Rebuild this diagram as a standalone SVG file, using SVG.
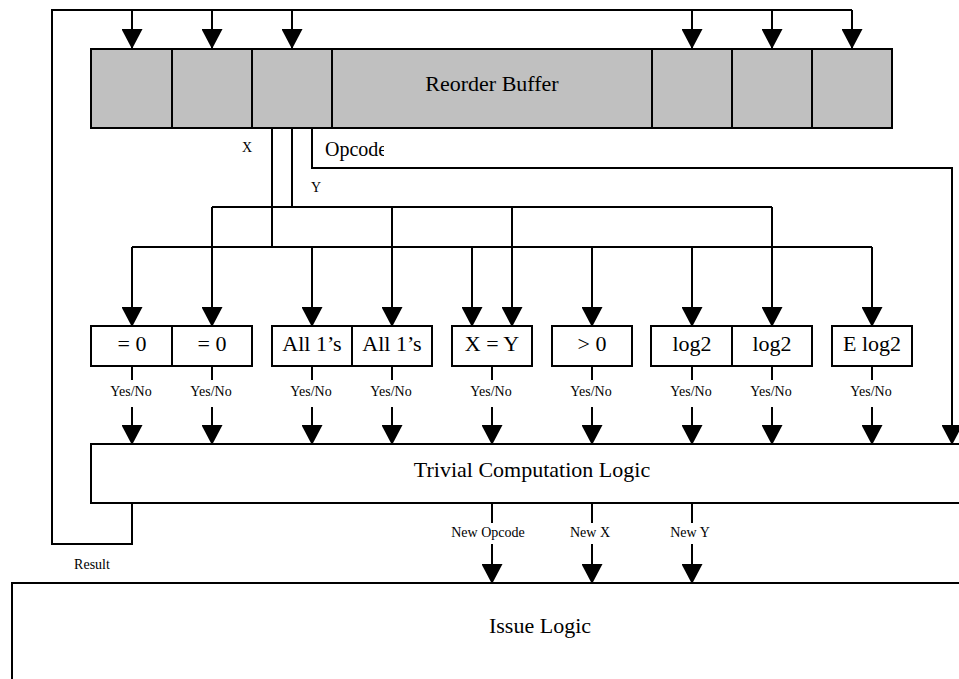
<svg xmlns="http://www.w3.org/2000/svg" width="959" height="679" viewBox="0 0 959 679">
<style>
.ln{fill:none;stroke:#000;stroke-width:2}
.ar{fill:none;stroke:#000;stroke-width:2;marker-end:url(#ah)}
.box{fill:#fff;stroke:#000;stroke-width:2}
.rob{fill:#c0c0c0;stroke:#000;stroke-width:2}
.t{font-family:"Liberation Serif","Times New Roman",serif;font-size:22px;text-anchor:middle;fill:#000}
.s{font-family:"Liberation Serif","Times New Roman",serif;font-size:14px;text-anchor:middle;fill:#000}
</style>
<defs>
<marker id="ah" viewBox="0 0 20 21" refX="19" refY="10.5" markerWidth="20" markerHeight="21" markerUnits="userSpaceOnUse" orient="auto">
<path d="M0,0 L20,10.5 L0,21 z" fill="#000"/>
</marker>
<clipPath id="opclip"><rect x="300" y="130" width="84" height="40"/></clipPath>
</defs>
<rect width="959" height="679" fill="#fff"/>

<g id="reorder-buffer">
<rect class="rob" x="91" y="49" width="801" height="79"/>
<path class="ln" d="M172,49V128M252,49V128M332,49V128M652,49V128M732,49V128M812,49V128"/>
<text class="t" x="492" y="91">Reorder Buffer</text>
</g>

<g id="check-eq0-x"><rect class="box" x="91" y="326" width="81" height="40"/><text class="t" x="132" y="351">= 0</text></g>
<g id="check-eq0-y"><rect class="box" x="172" y="326" width="80" height="40"/><text class="t" x="212" y="351">= 0</text></g>
<g id="check-all1-x"><rect class="box" x="272" y="326" width="80" height="40"/><text class="t" x="312" y="351">All 1’s</text></g>
<g id="check-all1-y"><rect class="box" x="352" y="326" width="80" height="40"/><text class="t" x="392" y="351">All 1’s</text></g>
<g id="check-xeqy"><rect class="box" x="452" y="326" width="80" height="40"/><text class="t" x="492" y="351">X = Y</text></g>
<g id="check-gt0"><rect class="box" x="552" y="326" width="80" height="40"/><text class="t" x="592" y="351">&gt; 0</text></g>
<g id="check-log2-x"><rect class="box" x="651" y="326" width="81" height="40"/><text class="t" x="692" y="351">log2</text></g>
<g id="check-log2-y"><rect class="box" x="732" y="326" width="80" height="40"/><text class="t" x="772" y="351">log2</text></g>
<g id="check-elog2"><rect class="box" x="832" y="326" width="80" height="40"/><text class="t" x="872" y="351">E log2</text></g>

<g id="trivial-computation-logic">
<rect class="box" x="91" y="444" width="880" height="59"/>
<text class="t" x="532" y="477">Trivial Computation Logic</text>
</g>

<g id="issue-logic">
<rect class="box" x="12" y="583" width="960" height="110"/>
<text class="t" x="540" y="633">Issue Logic</text>
</g>

<g id="connectors">
<path class="ln" d="M132,503V544H52V10H852"/>
<path class="ar" d="M132,10V48"/>
<path class="ar" d="M212,10V48"/>
<path class="ar" d="M292,10V48"/>
<path class="ar" d="M692,10V48"/>
<path class="ar" d="M772,10V48"/>
<path class="ar" d="M852,10V48"/>

<path class="ln" d="M272,128V247M292,128V207"/>
<path class="ln" d="M132,247H872M212,207H772"/>
<path class="ar" d="M132,247V326"/>
<path class="ar" d="M312,247V326"/>
<path class="ar" d="M472,247V326"/>
<path class="ar" d="M592,247V326"/>
<path class="ar" d="M692,247V326"/>
<path class="ar" d="M872,247V326"/>
<path class="ar" d="M212,207V326"/>
<path class="ar" d="M392,207V326"/>
<path class="ar" d="M512,207V326"/>
<path class="ar" d="M772,207V326"/>

<path class="ar" d="M312,128V168H952V444"/>

<path class="ln" d="M132,366V380M212,366V380M312,366V380M392,366V380M492,366V380M592,366V380M692,366V380M772,366V380M872,366V380"/>
<path class="ar" d="M132,407V444"/>
<path class="ar" d="M212,407V444"/>
<path class="ar" d="M312,407V444"/>
<path class="ar" d="M392,407V444"/>
<path class="ar" d="M492,407V444"/>
<path class="ar" d="M592,407V444"/>
<path class="ar" d="M692,407V444"/>
<path class="ar" d="M772,407V444"/>
<path class="ar" d="M872,407V444"/>

<path class="ln" d="M492,503V523M592,503V523M692,503V523"/>
<path class="ar" d="M492,544V583"/>
<path class="ar" d="M592,544V583"/>
<path class="ar" d="M692,544V583"/>
</g>

<g id="labels">
<text class="s" x="247" y="152">X</text>
<text class="s" x="316" y="192">Y</text>
<text class="t" x="325" y="156" style="font-size:20px;text-anchor:start" clip-path="url(#opclip)">Opcode</text>
<text class="s" x="131" y="396">Yes/No</text>
<text class="s" x="211" y="396">Yes/No</text>
<text class="s" x="311" y="396">Yes/No</text>
<text class="s" x="391" y="396">Yes/No</text>
<text class="s" x="491" y="396">Yes/No</text>
<text class="s" x="591" y="396">Yes/No</text>
<text class="s" x="691" y="396">Yes/No</text>
<text class="s" x="771" y="396">Yes/No</text>
<text class="s" x="871" y="396">Yes/No</text>
<text class="s" x="488" y="537">New Opcode</text>
<text class="s" x="590" y="537">New X</text>
<text class="s" x="690" y="537">New Y</text>
<text class="s" x="92" y="569">Result</text>
</g>
</svg>
